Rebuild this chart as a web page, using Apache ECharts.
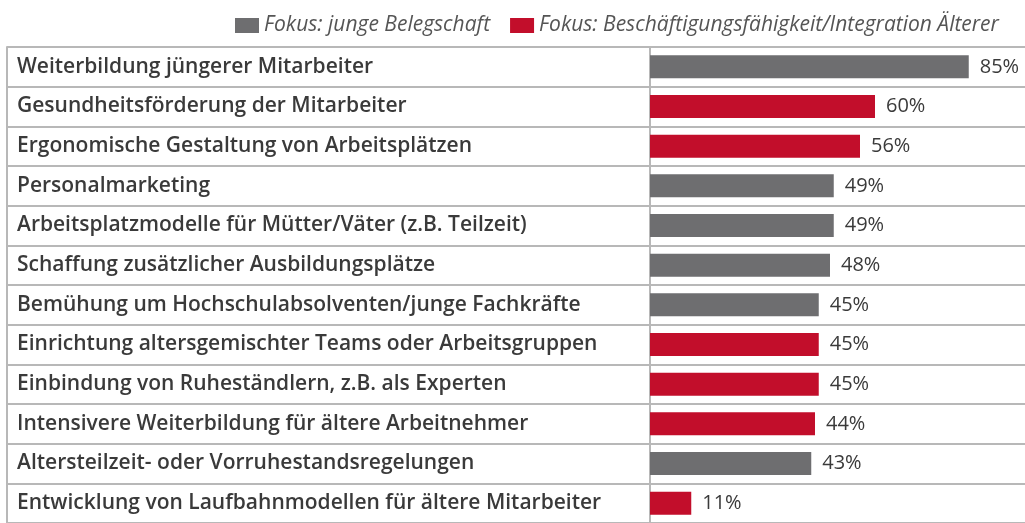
<!DOCTYPE html>
<html><head><meta charset="utf-8">
<script src="https://cdn.jsdelivr.net/npm/echarts@6/dist/echarts.min.js"></script>
<style>html,body{margin:0;padding:0;background:#fff}#c{width:1025px;height:523px}</style>
</head><body><div id="c"></div>
<script>
const categories = [
  "Weiterbildung jüngerer Mitarbeiter",
  "Gesundheitsförderung der Mitarbeiter",
  "Ergonomische Gestaltung von Arbeitsplätzen",
  "Personalmarketing",
  "Arbeitsplatzmodelle für Mütter/Väter (z.B. Teilzeit)",
  "Schaffung zusätzlicher Ausbildungsplätze",
  "Bemühung um Hochschulabsolventen/junge Fachkräfte",
  "Einrichtung altersgemischter Teams oder Arbeitsgruppen",
  "Einbindung von Ruheständlern, z.B. als Experten",
  "Intensivere Weiterbildung für ältere Arbeitnehmer",
  "Altersteilzeit- oder Vorruhestandsregelungen",
  "Entwicklung von Laufbahnmodellen für ältere Mitarbeiter"
];
const seriesNames = ["Fokus: junge Belegschaft", "Fokus: Beschäftigungsfähigkeit/Integration Älterer"];
const youngValues = [85, '-', '-', 49, 49, 48, 45, '-', '-', '-', 43, '-'];
const olderValues = ['-', 60, 56, '-', '-', '-', '-', 45, 45, 44, '-', 11];

const FONT = "'Open Sans', sans-serif";
const GRAY = '#6e6e70', RED = '#c20e2b', LINE = '#b8b8b8', TEXT = '#3a3a3a';

const chart = echarts.init(document.getElementById('c'), null, {renderer: 'canvas'});
const labelCfg = {
  show: true, position: 'right', distance: 11,
  formatter: p => p.value + '%',
  color: TEXT, fontFamily: FONT, fontSize: 20, fontWeight: 500
};
chart.setOption({
  animation: false,
  textStyle: {fontFamily: FONT},
  legend: {
    top: 10, left: 230,
    itemWidth: 24, itemHeight: 15, itemGap: 20,
    icon: 'rect',
    textStyle: {fontFamily: FONT, fontStyle: 'italic', fontSize: 21, color: '#555'},
    data: seriesNames
  },
  grid: [
    {left: 7, top: 47, width: 643, height: 480},
    {left: 650, top: 47, width: 380, height: 480}
  ],
  xAxis: [
    {gridIndex: 0, type: 'value', min: 0, max: 1, show: false},
    {gridIndex: 1, type: 'value', min: 0, max: 100, show: false}
  ],
  yAxis: [
    {gridIndex: 0, type: 'category', data: categories, inverse: true,
     axisLine: {show: true, lineStyle: {color: LINE, width: 2}},
     axisTick: {show: false},
     splitLine: {show: true, lineStyle: {color: LINE, width: 2}},
     axisLabel: {inside: true, margin: 10, color: TEXT, fontFamily: FONT, fontSize: 21, fontWeight: 600}},
    {gridIndex: 1, type: 'category', data: categories, inverse: true,
     axisLine: {show: true, lineStyle: {color: LINE, width: 2}},
     axisTick: {show: false},
     splitLine: {show: true, lineStyle: {color: LINE, width: 2}},
     axisLabel: {show: false}}
  ],
  series: [
    {name: seriesNames[0], type: 'bar', xAxisIndex: 1, yAxisIndex: 1, data: youngValues,
     barWidth: 23, barGap: '-100%', itemStyle: {color: GRAY}, label: labelCfg},
    {name: seriesNames[1], type: 'bar', xAxisIndex: 1, yAxisIndex: 1, data: olderValues,
     barWidth: 23, barGap: '-100%', itemStyle: {color: RED}, label: labelCfg}
  ]
});
</script></body></html>
